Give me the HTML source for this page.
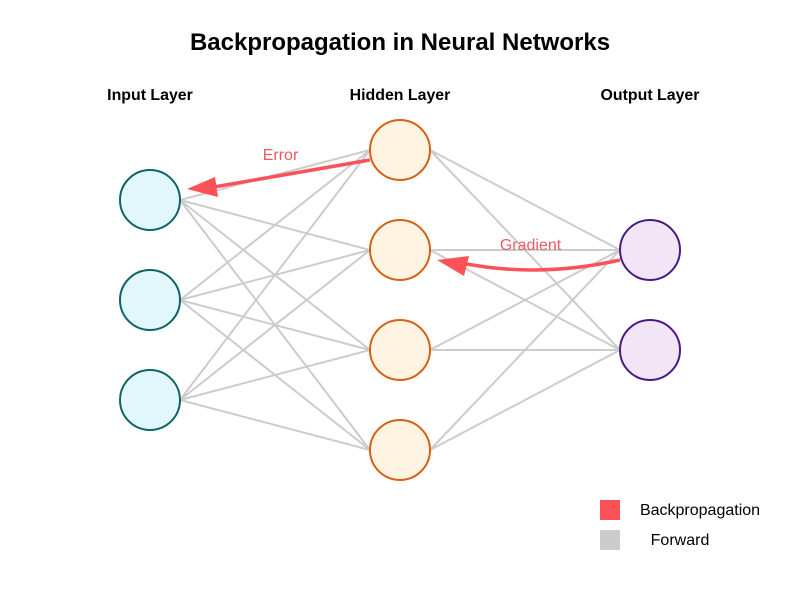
<!DOCTYPE html>
<html><head><meta charset="utf-8"><style>html,body{margin:0;padding:0;background:#fff}svg{display:block}text{font-family:"Liberation Sans",Arial,sans-serif}</style></head><body>
<svg width="800" height="600" viewBox="0 0 800 600" xmlns="http://www.w3.org/2000/svg">
<rect width="800" height="600" fill="#fff"/>
<text x="400" y="50" text-anchor="middle" font-size="24" font-weight="bold">Backpropagation in Neural Networks</text>
<g text-anchor="middle" font-size="16" font-weight="bold" style="font-size:15.900px">
<text x="150" y="100">Input Layer</text><text x="400" y="100">Hidden Layer</text><text x="650" y="100">Output Layer</text>
</g>
<g stroke="#cccccc" stroke-width="2" fill="none">
<path d="M180 200L370 150M180 200L370 250M180 200L370 350M180 200L370 450"/>
<path d="M180 300L370 150M180 300L370 250M180 300L370 350M180 300L370 450"/>
<path d="M180 400L370 150M180 400L370 250M180 400L370 350M180 400L370 450"/>
<path d="M430 150L620 250M430 150L620 350M430 250L620 250M430 250L620 350M430 350L620 250M430 350L620 350M430 450L620 250M430 450L620 350"/>
</g>
<g stroke-width="2">
<g fill="#e1f7fb" stroke="#0f6366"><circle cx="150" cy="200" r="30"/><circle cx="150" cy="300" r="30"/><circle cx="150" cy="400" r="30"/></g>
<g fill="#fff3e2" stroke="#d65f12"><circle cx="400" cy="150" r="30"/><circle cx="400" cy="250" r="30"/><circle cx="400" cy="350" r="30"/><circle cx="400" cy="450" r="30"/></g>
<g fill="#f2e5f6" stroke="#471a85"><circle cx="650" cy="250" r="30"/><circle cx="650" cy="350" r="30"/></g>
</g>
<path d="M370 160Q295 172.800 214 187" fill="none" stroke="#f9525a" stroke-width="3.500"/>
<polygon points="187,189 215,177 218,197" fill="#fc5257"/>
<path d="M620 260Q540 278 464 263.500" fill="none" stroke="#f9525a" stroke-width="3.500"/>
<polygon points="437,260 469,256 464,276" fill="#fc5257"/>
<g text-anchor="middle" font-size="16" fill="#e95c66">
<text x="280.500" y="160">Error</text><text x="530.500" y="250">Gradient</text>
</g>
<rect x="600" y="500" width="20" height="20" fill="#fc5257"/>
<rect x="600" y="530" width="20" height="20" fill="#cccccc"/>
<g text-anchor="middle" font-size="16">
<text x="700" y="515">Backpropagation</text><text x="680" y="545">Forward</text>
</g>
</svg>
</body></html>
